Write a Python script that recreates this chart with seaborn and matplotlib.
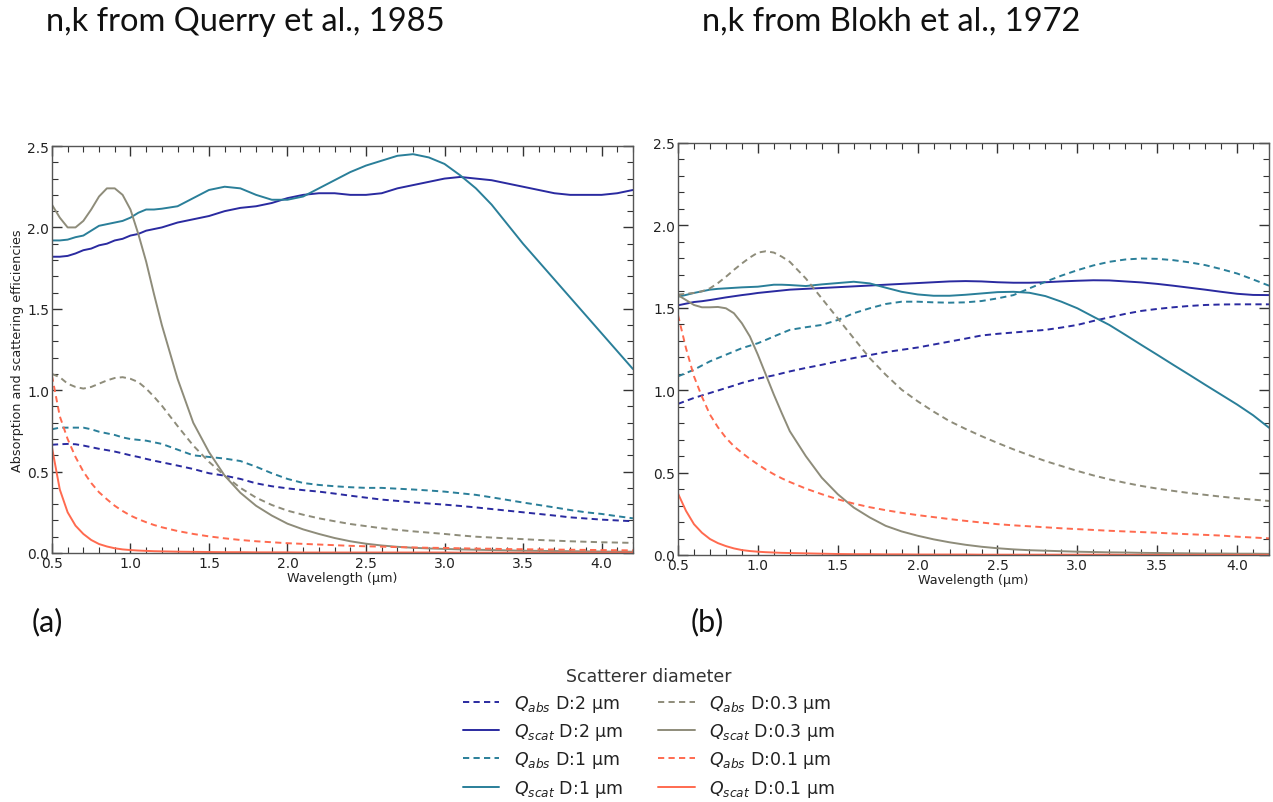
import numpy as np
import pandas as pd
import matplotlib
matplotlib.use("Agg")
import matplotlib.pyplot as plt
from matplotlib.lines import Line2D
from matplotlib.ticker import MultipleLocator
import seaborn as sns

# Wavelength grid (µm) shared by all series
wavelength = np.round(np.r_[np.arange(0.5, 1.2001, 0.05), np.arange(1.3, 4.2001, 0.1)], 2)

diameters = ["2", "1", "0.3", "0.1"]

# ---- Panel (a): n,k from Querry et al., 1985 ----
a_qabs_2 = [0.665, 0.668, 0.67, 0.668, 0.66, 0.65, 0.64, 0.632, 0.623, 0.612, 0.60, 0.59, 0.578, 0.567, 0.557,
            0.537, 0.516, 0.49, 0.475, 0.455, 0.428, 0.41, 0.397, 0.386, 0.377, 0.365, 0.352, 0.34, 0.328, 0.32,
            0.311, 0.304, 0.297, 0.289, 0.28, 0.27, 0.26, 0.25, 0.24, 0.23, 0.219, 0.212, 0.205, 0.2, 0.195]
a_qscat_2 = [1.82, 1.82, 1.825, 1.84, 1.86, 1.87, 1.89, 1.90, 1.92, 1.93, 1.95, 1.96, 1.98, 1.99, 2.00,
             2.03, 2.05, 2.07, 2.10, 2.12, 2.13, 2.15, 2.18, 2.20, 2.21, 2.21, 2.20, 2.20, 2.21, 2.24,
             2.26, 2.28, 2.30, 2.31, 2.30, 2.29, 2.27, 2.25, 2.23, 2.21, 2.20, 2.20, 2.20, 2.21, 2.23]
a_qabs_1 = [0.76, 0.77, 0.77, 0.77, 0.77, 0.76, 0.745, 0.735, 0.725, 0.71, 0.70, 0.695, 0.69, 0.68, 0.67,
            0.635, 0.60, 0.59, 0.58, 0.565, 0.53, 0.49, 0.455, 0.43, 0.418, 0.41, 0.404, 0.40, 0.40, 0.395,
            0.39, 0.384, 0.377, 0.367, 0.357, 0.342, 0.326, 0.31, 0.295, 0.28, 0.264, 0.25, 0.24, 0.226, 0.213]
a_qscat_1 = [1.92, 1.92, 1.925, 1.94, 1.95, 1.98, 2.01, 2.02, 2.03, 2.04, 2.06, 2.09, 2.11, 2.11, 2.115,
             2.13, 2.18, 2.23, 2.25, 2.24, 2.20, 2.17, 2.17, 2.19, 2.24, 2.29, 2.34, 2.38, 2.41, 2.44,
             2.45, 2.43, 2.39, 2.32, 2.24, 2.14, 2.02, 1.90, 1.79, 1.68, 1.57, 1.46, 1.35, 1.24, 1.13]
a_qabs_03 = [1.10, 1.08, 1.04, 1.02, 1.01, 1.02, 1.04, 1.06, 1.075, 1.08, 1.07, 1.05, 1.01, 0.96, 0.905,
             0.78, 0.66, 0.56, 0.475, 0.40, 0.34, 0.295, 0.26, 0.235, 0.213, 0.195, 0.178, 0.165, 0.152, 0.142,
             0.133, 0.125, 0.117, 0.108, 0.10, 0.095, 0.09, 0.085, 0.08, 0.076, 0.072, 0.069, 0.066, 0.064, 0.062]
a_qscat_03 = [2.14, 2.06, 2.00, 2.00, 2.04, 2.11, 2.19, 2.24, 2.24, 2.20, 2.11, 1.96, 1.79, 1.59, 1.40,
              1.07, 0.80, 0.62, 0.475, 0.37, 0.29, 0.23, 0.18, 0.145, 0.117, 0.092, 0.072, 0.057, 0.046, 0.038,
              0.032, 0.028, 0.025, 0.022, 0.02, 0.018, 0.016, 0.014, 0.013, 0.012, 0.011, 0.010, 0.009, 0.008, 0.008]
a_qabs_01 = [1.09, 0.84, 0.70, 0.59, 0.50, 0.43, 0.373, 0.33, 0.29, 0.258, 0.23, 0.208, 0.189, 0.172, 0.158,
             0.135, 0.117, 0.102, 0.09, 0.08, 0.072, 0.066, 0.06, 0.056, 0.052, 0.048, 0.044, 0.041, 0.039, 0.036,
             0.034, 0.032, 0.031, 0.029, 0.027, 0.026, 0.024, 0.023, 0.022, 0.021, 0.02, 0.019, 0.018, 0.017, 0.016]
a_qscat_01 = [0.65, 0.39, 0.25, 0.168, 0.117, 0.08, 0.055, 0.04, 0.029, 0.022, 0.018, 0.015, 0.013, 0.011, 0.01,
              0.008, 0.007, 0.006, 0.005, 0.005, 0.004, 0.004, 0.004, 0.003, 0.003, 0.003, 0.003, 0.003, 0.003, 0.003,
              0.003, 0.003, 0.003, 0.002, 0.002, 0.002, 0.002, 0.002, 0.002, 0.002, 0.002, 0.002, 0.002, 0.002, 0.002]

# ---- Panel (b): n,k from Blokh et al., 1972 ----
b_qabs_2 = [0.917, 0.935, 0.953, 0.968, 0.983, 0.998, 1.013, 1.028, 1.044, 1.057, 1.07, 1.08, 1.09, 1.102, 1.114,
            1.135, 1.154, 1.175, 1.195, 1.213, 1.231, 1.245, 1.259, 1.277, 1.295, 1.313, 1.332, 1.342, 1.35, 1.358,
            1.366, 1.38, 1.396, 1.42, 1.442, 1.463, 1.481, 1.493, 1.503, 1.511, 1.517, 1.52, 1.521, 1.521, 1.521]
b_qscat_2 = [1.515, 1.525, 1.535, 1.54, 1.547, 1.555, 1.563, 1.57, 1.577, 1.583, 1.59, 1.595, 1.60, 1.605, 1.61,
             1.615, 1.62, 1.625, 1.63, 1.635, 1.64, 1.645, 1.65, 1.655, 1.66, 1.662, 1.66, 1.655, 1.652, 1.652,
             1.655, 1.66, 1.664, 1.667, 1.666, 1.66, 1.654, 1.645, 1.634, 1.622, 1.61, 1.597, 1.585, 1.578, 1.577]
b_qabs_1 = [1.084, 1.104, 1.124, 1.15, 1.175, 1.195, 1.215, 1.235, 1.255, 1.27, 1.285, 1.305, 1.326, 1.346, 1.366,
            1.382, 1.396, 1.426, 1.467, 1.497, 1.523, 1.537, 1.537, 1.533, 1.531, 1.533, 1.541, 1.557, 1.577, 1.618,
            1.658, 1.695, 1.728, 1.757, 1.779, 1.793, 1.799, 1.797, 1.789, 1.776, 1.759, 1.735, 1.708, 1.672, 1.634]
b_qscat_1 = [1.567, 1.578, 1.59, 1.60, 1.61, 1.615, 1.618, 1.621, 1.624, 1.626, 1.628, 1.634, 1.64, 1.64, 1.638,
             1.632, 1.642, 1.65, 1.658, 1.648, 1.622, 1.597, 1.581, 1.573, 1.573, 1.579, 1.587, 1.595, 1.597, 1.591,
             1.571, 1.537, 1.497, 1.446, 1.396, 1.336, 1.275, 1.215, 1.154, 1.094, 1.033, 0.973, 0.913, 0.848, 0.772]
b_qabs_03 = [1.58, 1.585, 1.59, 1.60, 1.618, 1.65, 1.688, 1.73, 1.769, 1.805, 1.835, 1.843, 1.835, 1.81, 1.779,
             1.678, 1.557, 1.436, 1.315, 1.195, 1.094, 1.003, 0.933, 0.87, 0.812, 0.765, 0.721, 0.68, 0.641, 0.605,
             0.57, 0.54, 0.51, 0.483, 0.459, 0.438, 0.419, 0.403, 0.389, 0.376, 0.365, 0.354, 0.344, 0.336, 0.328]
b_qscat_03 = [1.577, 1.547, 1.517, 1.503, 1.503, 1.505, 1.497, 1.467, 1.406, 1.326, 1.215, 1.094, 0.973, 0.86, 0.751,
              0.60, 0.469, 0.369, 0.288, 0.228, 0.177, 0.143, 0.117, 0.095, 0.077, 0.062, 0.05, 0.041, 0.034, 0.029,
              0.026, 0.023, 0.02, 0.018, 0.016, 0.015, 0.013, 0.012, 0.011, 0.01, 0.009, 0.009, 0.008, 0.008, 0.007]
b_qabs_01 = [1.456, 1.255, 1.084, 0.96, 0.852, 0.775, 0.711, 0.66, 0.62, 0.583, 0.55, 0.518, 0.49, 0.465, 0.443,
             0.403, 0.369, 0.338, 0.312, 0.29, 0.272, 0.256, 0.242, 0.23, 0.218, 0.207, 0.197, 0.187, 0.18, 0.174,
             0.168, 0.162, 0.157, 0.152, 0.147, 0.143, 0.139, 0.135, 0.13, 0.126, 0.122, 0.118, 0.111, 0.106, 0.101]
b_qscat_01 = [0.373, 0.268, 0.187, 0.135, 0.097, 0.072, 0.054, 0.04, 0.03, 0.024, 0.02, 0.017, 0.015, 0.013, 0.012,
              0.01, 0.008, 0.006, 0.005, 0.005, 0.004, 0.004, 0.003, 0.003, 0.003, 0.003, 0.002, 0.002, 0.002, 0.002,
              0.002, 0.002, 0.002, 0.002, 0.002, 0.001, 0.001, 0.001, 0.001, 0.001, 0.001, 0.001, 0.001, 0.001, 0.001]

titles = ["n,k from Querry et al., 1985", "n,k from Blokh et al., 1972"]
panel_tags = ["(a)", "(b)"]

colors = {"2": "#2a2aa0", "1": "#2a7f99", "0.3": "#8e8c7a", "0.1": "#ff6a4f"}

panel_a = {("abs", "2"): a_qabs_2, ("scat", "2"): a_qscat_2,
           ("abs", "1"): a_qabs_1, ("scat", "1"): a_qscat_1,
           ("abs", "0.3"): a_qabs_03, ("scat", "0.3"): a_qscat_03,
           ("abs", "0.1"): a_qabs_01, ("scat", "0.1"): a_qscat_01}
panel_b = {("abs", "2"): b_qabs_2, ("scat", "2"): b_qscat_2,
           ("abs", "1"): b_qabs_1, ("scat", "1"): b_qscat_1,
           ("abs", "0.3"): b_qabs_03, ("scat", "0.3"): b_qscat_03,
           ("abs", "0.1"): b_qabs_01, ("scat", "0.1"): b_qscat_01}

sns.set_style("white")
plt.rcParams["font.family"] = ["DejaVu Sans"]
plt.rcParams["mathtext.fontset"] = "dejavusans"

fig = plt.figure(figsize=(12.73, 8.03), dpi=100)
ax_a = fig.add_axes([0.0408, 0.3101, 0.4564, 0.5068])
ax_b = fig.add_axes([0.5326, 0.3076, 0.4643, 0.5131])

DASH = (3.2, 2.2)
tick_col = "#333333"

for ax, panel in [(ax_a, panel_a), (ax_b, panel_b)]:
    for d in diameters:
        for kind in ["abs", "scat"]:
            df = pd.DataFrame({"wavelength": wavelength, "Q": panel[(kind, d)]})
            sns.lineplot(data=df, x="wavelength", y="Q", ax=ax, color=colors[d],
                         linewidth=1.4, legend=False)
            if kind == "abs":
                ax.lines[-1].set_linestyle((0, DASH))
    ax.set_xlim(0.5, 4.2)
    ax.set_ylim(0.0, 2.5)
    ax.xaxis.set_major_locator(MultipleLocator(0.5))
    ax.xaxis.set_minor_locator(MultipleLocator(0.1))
    ax.yaxis.set_major_locator(MultipleLocator(0.5))
    ax.yaxis.set_minor_locator(MultipleLocator(0.1))
    ax.tick_params(which="both", direction="in", top=True, right=True, bottom=True, left=True,
                   colors=tick_col, labelcolor="#222222")
    ax.tick_params(which="major", length=7, width=1.0, labelsize=10, pad=2)
    ax.tick_params(which="minor", length=4, width=0.8)
    for s in ax.spines.values():
        s.set_color("#555555")
        s.set_linewidth(1.0)
    ax.set_xlabel("Wavelength (µm)", fontsize=9.2, color="#222222", labelpad=1)
    ax.set_ylabel("")

ax_a.set_ylabel("Absorption and scattering efficiencies", fontsize=9.2, color="#222222", labelpad=2)

# Panel titles and tags
title_kw = dict(fontsize=23.5, family="Lato", ha="center", va="center", color="#111111")
fig.text(245 / 1273, 1 - 22 / 803, titles[0], **title_kw)
fig.text(891 / 1273, 1 - 22 / 803, titles[1], **title_kw)
tag_kw = dict(fontsize=22, family="Lato", ha="center", va="center", color="#111111")
fig.text(47 / 1273, 1 - 622 / 803, panel_tags[0], **tag_kw)
fig.text(707 / 1273, 1 - 622 / 803, panel_tags[1], **tag_kw)

# Legend
handles, labels = [], []
for d in diameters:
    for kind in ["abs", "scat"]:
        ls = "-" if kind == "scat" else (0, DASH)
        handles.append(Line2D([], [], color=colors[d], linewidth=1.4, linestyle=ls))
        labels.append(f"$Q_{{{kind}}}$ D:{d} µm")

leg = fig.legend(handles, labels, ncol=2, frameon=False, loc="upper center",
                 bbox_to_anchor=(649 / 1273, 1 - 658 / 803), fontsize=12.5,
                 title="Scatterer diameter", title_fontsize=12.5,
                 handlelength=2.1, handletextpad=0.85, columnspacing=2.0, labelspacing=0.42,
                 borderaxespad=0.2)
for t in leg.get_texts():
    t.set_color("#222222")
leg.get_title().set_color("#333333")

fig.savefig("out.png", dpi=100)
